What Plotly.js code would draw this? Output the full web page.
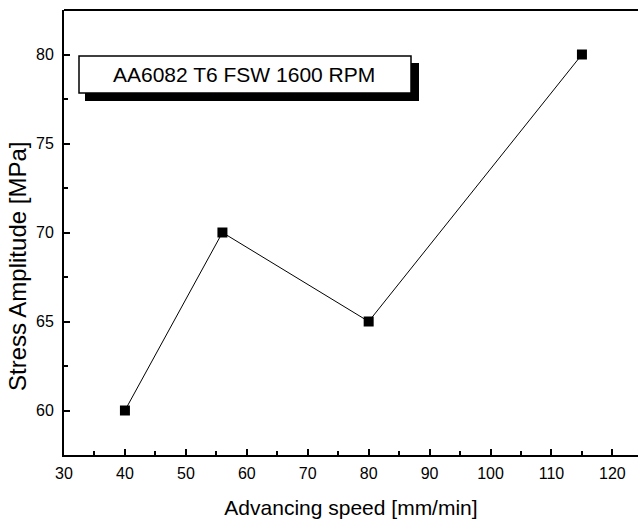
<!DOCTYPE html>
<html>
<head>
<meta charset="utf-8">
<script src="https://cdn.plot.ly/plotly-3.0.1.min.js"></script>
<style>html,body{margin:0;padding:0;background:#fff;}#chart{width:638px;height:520px;}</style>
</head>
<body>
<div id="chart"></div>
<script>
const speeds = [40, 56, 80, 115];
const amplitudes = [60, 70, 65, 80];
const labelText = "AA6082 T6 FSW 1600 RPM";
const xTitle = "Advancing speed [mm/min]";
const yTitle = "Stress Amplitude [MPa]";

const W = 638, H = 520, L = 64, R = 0, T = 10, B = 65;
const pw = W - L - R, ph = H - T - B;
function px(x){ return (x - L) / pw; }
function py(y){ return 1 - (y - T) / ph; }

const font = {family: "Liberation Sans, Arial, sans-serif", color: "#000"};

const trace = {
  x: speeds, y: amplitudes, mode: "lines+markers", type: "scatter",
  line: {color: "#000", width: 1},
  marker: {symbol: "square", size: 10, color: "#000"},
  showlegend: false, hoverinfo: "skip"
};

const layout = {
  width: W, height: H,
  margin: {l: L, r: R, t: T, b: B, pad: 0},
  paper_bgcolor: "#fff", plot_bgcolor: "#fff",
  font: Object.assign({size: 16}, font),
  xaxis: {
    range: [30, 124.2], dtick: 10, tick0: 30,
    ticks: "inside", ticklen: 6, tickwidth: 2, tickcolor: "#000",
    minor: {dtick: 5, ticks: "inside", ticklen: 4, tickwidth: 2, tickcolor: "#000", showgrid: false},
    showline: true, linewidth: 2, linecolor: "#000", mirror: false,
    showgrid: false, zeroline: false,
    tickfont: Object.assign({size: 16}, font),
    ticklabelstandoff: 3,
    title: {text: xTitle, font: Object.assign({size: 21}, font), standoff: 19}
  },
  yaxis: {
    range: [57.5, 82.5], dtick: 5, tick0: 60,
    ticks: "inside", ticklen: 6, tickwidth: 2, tickcolor: "#000",
    minor: {dtick: 2.5, ticks: "inside", ticklen: 4, tickwidth: 2, tickcolor: "#000", showgrid: false},
    showline: true, linewidth: 2, linecolor: "#000",
    showgrid: false, zeroline: false,
    tickfont: Object.assign({size: 16}, font),
    ticklabelstandoff: 5
  },
  shapes: [
    {type: "line", xref: "paper", yref: "paper", x0: 0, x1: 1, y0: 1, y1: 1, line: {color: "#000", width: 2}},
    {type: "rect", xref: "paper", yref: "paper", x0: px(85), x1: px(419), y0: py(101), y1: py(63), fillcolor: "#000", line: {width: 0}},
    {type: "rect", xref: "paper", yref: "paper", x0: px(79), x1: px(411), y0: py(93), y1: py(56), fillcolor: "#fff", line: {color: "#000", width: 1.5}}
  ],
  annotations: [
    {xref: "paper", yref: "paper", x: px(243.5), y: py(74.5), text: labelText, showarrow: false,
     font: Object.assign({size: 21}, font), xanchor: "center", yanchor: "middle"},
    {xref: "paper", yref: "paper", x: px(17), y: py(267), text: yTitle, showarrow: false, textangle: -90,
     font: Object.assign({size: 24}, font), xanchor: "center", yanchor: "middle"}
  ]
};

Plotly.newPlot("chart", [trace], layout, {displayModeBar: false, staticPlot: true});
</script>
</body>
</html>
